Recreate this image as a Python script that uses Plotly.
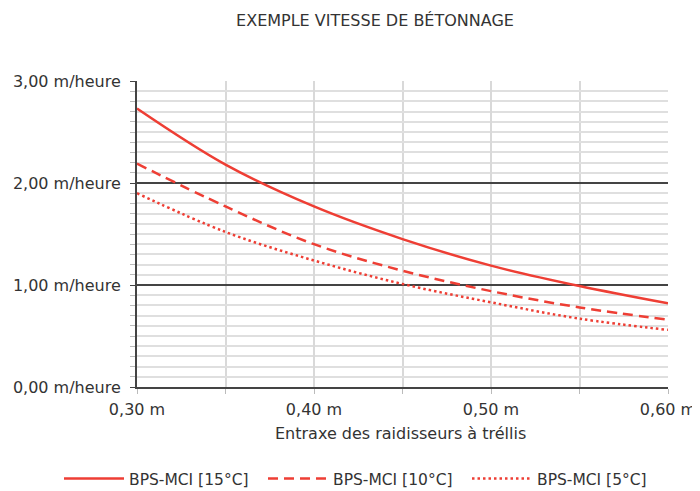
import plotly.graph_objects as go

entraxe = [0.30, 0.35, 0.40, 0.45, 0.50, 0.55, 0.60]
vitesse_15 = [2.73, 2.18, 1.77, 1.45, 1.19, 0.99, 0.82]
vitesse_10 = [2.19, 1.77, 1.40, 1.14, 0.94, 0.78, 0.66]
vitesse_5 = [1.90, 1.52, 1.24, 1.01, 0.83, 0.67, 0.56]
series_names = ["BPS-MCI [15°C]", "BPS-MCI [10°C]", "BPS-MCI [5°C]"]
x_title = "Entraxe des raidisseurs à tréllis"
chart_title = "EXEMPLE VITESSE DE BÉTONNAGE"

RED = "#EE3E34"
FONT = "DejaVu Sans, Verdana, sans-serif"
TXT = "#333333"

# the page body has an 8px margin, so the figure is drawn 8px in from the window corner
W, H = 692, 483
OFF = 8
PL, PR, PT, PB = 137, 668, 81, 387  # plot area in window pixels
PW, PH = PR - PL, PB - PT

fig = go.Figure()
for name, vals, dash in zip(series_names, [vitesse_15, vitesse_10, vitesse_5],
                            ["solid", "10px,6px", "2.5px,3px"]):
    fig.add_trace(go.Scatter(
        x=entraxe, y=vals, name=name, mode="lines",
        line=dict(color=RED, width=2.5, dash=dash, shape="spline", smoothing=1.0),
        hoverinfo="skip",
    ))

fig.update_layout(
    width=W, height=H,
    margin=dict(l=PL - OFF, r=W - (PR - OFF), t=PT - OFF, b=H - (PB - OFF),
                autoexpand=False),
    paper_bgcolor="white", plot_bgcolor="white",
    font=dict(family=FONT, color=TXT, size=15),
    separators=", ",
    title=dict(text=chart_title, x=(375 - OFF) / W, xref="container",
               xanchor="center", y=1 - (20 - OFF) / H, yref="container", yanchor="middle",
               font=dict(size=16, color=TXT, family=FONT)),
    showlegend=True,
    legend=dict(orientation="h", xref="paper", yref="paper",
                x=(59 - PL) / PW, xanchor="left",
                y=-(479 - PB) / PH, yanchor="middle",
                font=dict(size=15.5, color=TXT), itemwidth=60,
                entrywidth=129, entrywidthmode="pixels",
                traceorder="normal"),
    annotations=[dict(text=x_title, xref="paper", yref="paper",
                      x=(400 - PL) / PW, y=-(434 - PB) / PH,
                      xanchor="center", yanchor="middle", showarrow=False,
                      font=dict(size=16, color=TXT, family=FONT))],
)

fig.update_xaxes(
    range=[0.30, 0.60], dtick=0.1, tick0=0.3, tickformat=".2f", ticksuffix=" m",
    automargin=False,
    showgrid=True, gridcolor="#D9D9D9", gridwidth=1.5,
    minor=dict(dtick=0.05, tick0=0.3, showgrid=True, gridcolor="#D9D9D9", gridwidth=1.5,
               ticks="outside", ticklen=5, tickcolor="#BBBBBB"),
    ticks="outside", ticklen=5, tickcolor="#BBBBBB",
    showline=True, linecolor="#444444", linewidth=2,
    zeroline=False,
    ticklabelstandoff=2,
    tickfont=dict(size=16, color=TXT),
)
fig.update_yaxes(
    range=[0, 3], dtick=1, tick0=0, tickformat=".2f", ticksuffix=" m/heure",
    automargin=False,
    showgrid=True, gridcolor="#444444", gridwidth=1.5,
    minor=dict(dtick=0.1, tick0=0, showgrid=True, gridcolor="#DFDFDF", gridwidth=1.5,
               ticks="outside", ticklen=5, tickcolor="#BBBBBB"),
    ticks="outside", ticklen=5, tickcolor="#444444",
    showline=True, linecolor="#444444", linewidth=2,
    zeroline=False,
    ticklabelstandoff=6,
    tickfont=dict(size=16, color=TXT),
)

fig.write_html("out.html")
